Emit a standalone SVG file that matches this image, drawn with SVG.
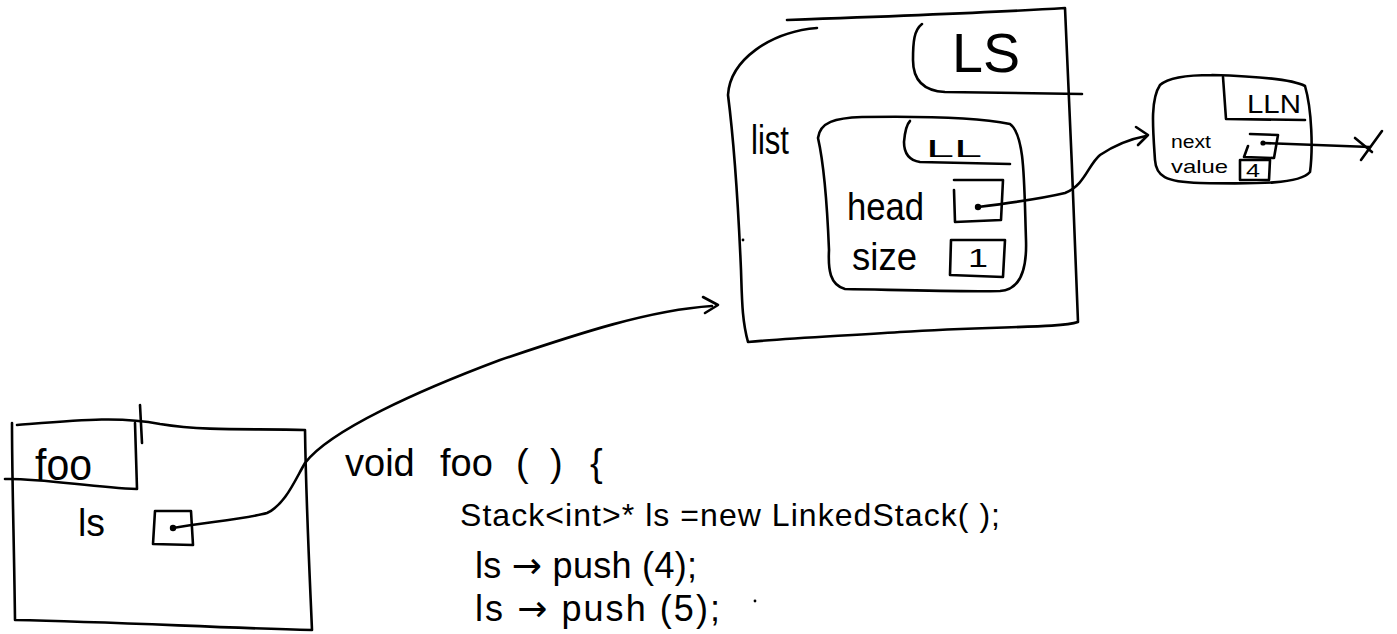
<svg xmlns="http://www.w3.org/2000/svg" width="1397" height="634" viewBox="0 0 1397 634">
<style>
.s{fill:none;stroke:#000;stroke-width:2.6;stroke-linecap:round;stroke-linejoin:round}
.t{font-family:"Liberation Sans",Arial,sans-serif;fill:#000}
.a{font-family:"DejaVu Sans",sans-serif}
.d{fill:#000}
</style>
<rect width="1397" height="634" fill="#fff"/>
<g id="foo-frame">
<path class="s" d="M17,425 C80,420 120,416 160,424 C210,432 260,428 305,430 C306,500 309,560 312,630 C220,628 120,622 15,620 C14,540 12,480 12,423"/>
<path class="s" d="M5,479 C40,478 90,487 137,489 L135,423"/>
<path class="s" d="M140,405 L142,443"/>
<text class="t" x="35" y="480" font-size="44" textLength="57" lengthAdjust="spacingAndGlyphs">foo</text>
<text class="t" x="78" y="536" font-size="38" textLength="27" lengthAdjust="spacingAndGlyphs">ls</text>
<path class="s" d="M155,511 L191,511 L193,545 L153,544 Z"/>
<circle class="d" cx="173" cy="528" r="3.2"/>
</g>
<g id="ls-node">
<path class="s" d="M787,20 C900,16 1000,12 1065,8 C1070,110 1074,220 1078,322 C1060,328 1000,326 900,332 C840,336 790,338 748,342 C742,320 742,300 741,270 C738,200 735,150 728,95 C730,60 770,32 817,28"/>
<path class="s" d="M1082,94 L945,92 C925,91 913,82 913,60 C913,42 914,30 922,24"/>
<text class="t" x="952" y="72" font-size="56" textLength="68" lengthAdjust="spacingAndGlyphs">LS</text>
<text class="t" x="751" y="154" font-size="40" textLength="38" lengthAdjust="spacingAndGlyphs">list</text>
<circle class="d" cx="743" cy="240" r="1.4"/>
</g>
<g id="ll-node">
<path class="s" d="M862,117 C920,116 980,118 1010,124 C1025,135 1024,180 1026,240 C1027,270 1020,290 1000,291 C960,292 900,290 845,289 C830,285 828,270 829,250 C827,200 823,160 818,138 C820,122 835,118 862,117"/>
<path class="s" d="M1010,164 L920,162 C907,160 904,150 904,142 C905,130 907,124 910,121"/>
<text class="t" x="926" y="157" font-size="24" textLength="56" lengthAdjust="spacingAndGlyphs">LL</text>
<text class="t" x="847" y="220" font-size="38" textLength="77" lengthAdjust="spacingAndGlyphs">head</text>
<path class="s" d="M954,180 L1003,180 L1001,220 L955,222 L954,190"/>
<circle class="d" cx="978" cy="207" r="3.2"/>
<text class="t" x="852" y="270" font-size="38" textLength="65" lengthAdjust="spacingAndGlyphs">size</text>
<path class="s" d="M951,240 L1005,240 L1003,277 L950,275 Z"/>
<text class="t" x="968" y="267" font-size="26" textLength="20" lengthAdjust="spacingAndGlyphs">1</text>
</g>
<g id="lln-node">
<path class="s" d="M1212,75 C1250,76 1290,78 1305,86 C1312,110 1313,150 1310,172 C1300,184 1260,184 1200,183 C1165,182 1156,176 1155,160 C1153,130 1150,100 1160,85 C1170,76 1195,75 1212,75"/>
<path class="s" d="M1305,120 L1226,119 L1223,77"/>
<text class="t" x="1247" y="113" font-size="26" textLength="54" lengthAdjust="spacingAndGlyphs">LLN</text>
<text class="t" x="1171" y="148" font-size="19" textLength="40" lengthAdjust="spacingAndGlyphs">next</text>
<path class="s" d="M1250,134 L1278,135 L1274,158 L1244,157 L1248,146"/>
<circle class="d" cx="1263" cy="143" r="2.6"/>
<text class="t" x="1171" y="173" font-size="19" textLength="57" lengthAdjust="spacingAndGlyphs">value</text>
<path class="s" d="M1240,160 L1270,160 L1269,180 L1240,180 Z"/>
<text class="t" x="1246" y="177" font-size="18" textLength="14" lengthAdjust="spacingAndGlyphs">4</text>
</g>
<g id="code">
<text class="t" y="476" font-size="38"><tspan x="345">void</tspan><tspan x="440">foo</tspan><tspan x="516">(</tspan><tspan x="550">)</tspan><tspan x="590">{</tspan></text>
<text class="t" x="460" y="526" font-size="32" textLength="540" lengthAdjust="spacing">Stack&lt;int&gt;*  ls  =new LinkedStack( );</text>
<circle class="d" cx="953" cy="513" r="1.6"/>
<text class="t" x="475" y="578" font-size="36" textLength="222" lengthAdjust="spacing">ls <tspan class="a">→</tspan> push (4);</text>
<text class="t" x="475" y="621" font-size="36" textLength="245" lengthAdjust="spacing">ls <tspan class="a">→</tspan> push (5);</text>
<circle class="d" cx="755" cy="601" r="1.4"/>
</g>
<g id="connectors">
<path class="s" d="M173,528 C210,522 250,518 267,513 C285,505 295,480 305,463 C330,430 420,390 500,360 C580,333 650,310 712,306"/>
<path class="s" d="M703,297 L718,305 L705,313"/>
<path class="s" d="M978,207 C1010,203 1040,199 1065,193 C1085,185 1088,165 1100,155 C1115,145 1130,139 1146,136"/>
<path class="s" d="M1136,127 L1148,135 L1138,145"/>
<path class="s" d="M1263,143 L1370,147"/>
<path class="s" d="M1355,138 L1372,152"/>
<path class="s" d="M1382,131 L1361,160"/>
</g>
</svg>
